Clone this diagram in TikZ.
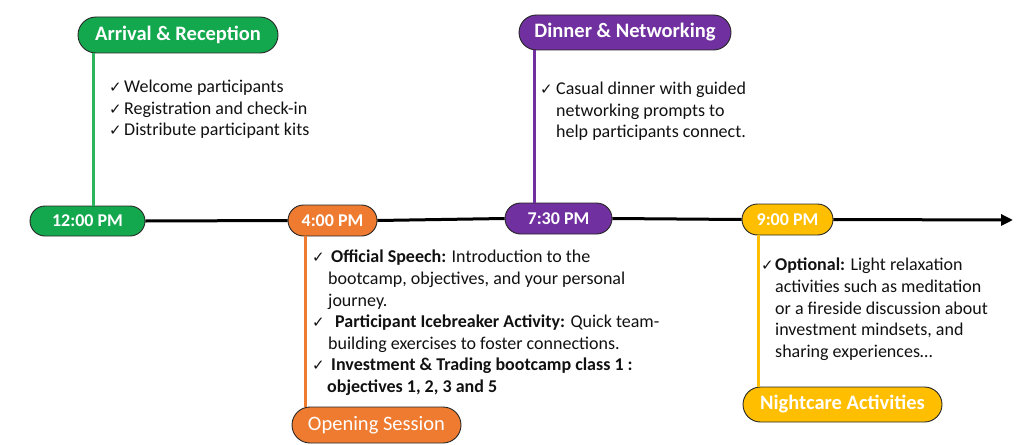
\documentclass[tikz,border=0pt]{standalone}
\usepackage{fontspec}
\setmainfont{Carlito}
\newfontfamily\symfont{DejaVu Sans}
\usetikzlibrary{arrows.meta}
\definecolor{cgreen}{HTML}{13A84E}
\definecolor{cgreenl}{HTML}{2DB55D}
\definecolor{corange}{HTML}{EE7B30}
\definecolor{cpurple}{HTML}{7030A0}
\definecolor{cyellow}{HTML}{FFBF00}
\definecolor{ctext}{HTML}{111111}
\newcommand\ck[1]{\makebox[#1][l]{\symfont\fontsize{15}{15}\selectfont ✓}}
\begin{document}
\begin{tikzpicture}[x=1pt,y=-1pt,
  pill/.style={draw=black!85, line width=0.9pt, text=white, inner sep=0pt, font=\bfseries\fontsize{18}{18}\selectfont},
  lbl/.style={pill, font=\bfseries\fontsize{20.5}{20.5}\selectfont},
  lblr/.style={pill, font=\fontsize{20.5}{20.5}\selectfont},
  desc/.style={anchor=north west, align=left, inner sep=0pt, text=ctext, font=\fontsize{18}{21.6}\selectfont},
  tline/.style={line width=3pt, black},
  vline/.style={line width=3pt}]
\useasboundingbox (0,0) rectangle (1024,444);

% time nodes
\node[pill, fill=cgreen, minimum width=115pt, minimum height=30pt, rounded corners=15pt] (t12) at (87.5,221) {12:00 PM};
\node[pill, fill=corange, minimum width=89pt, minimum height=31pt, rounded corners=15.5pt] (t4) at (332.5,220.5) {4:00 PM};
\node[pill, fill=cpurple, minimum width=107pt, minimum height=31pt, rounded corners=15.5pt] (t730) at (558.5,218.5) {7:30 PM};
\node[pill, fill=cyellow, minimum width=91pt, minimum height=31pt, rounded corners=15.5pt] (t9) at (787.5,219.5) {9:00 PM};
\coordinate (tend) at (1013,220);

% label nodes
\node[lbl, fill=cgreen, minimum width=200pt, minimum height=36pt, rounded corners=18pt] (arr) at (178,35) {Arrival \& Reception};
\node[lblr, fill=corange, minimum width=169pt, minimum height=36pt, rounded corners=18pt] (open) at (376.5,425) {Opening Session};
\node[lbl, fill=cpurple, minimum width=212pt, minimum height=35pt, rounded corners=17.5pt] (din) at (625,32.5) {Dinner \& Networking};
\node[lbl, fill=cyellow, minimum width=199pt, minimum height=35pt, rounded corners=17.5pt] (night) at (842.5,404.5) {Nightcare Activities};

% timeline
\draw[tline] (t12.east) -- (t4.west);
\draw[tline] (t4.east) -- (t730.west);
\draw[tline] (t730.east) -- (t9.west);
\draw[tline, -{Triangle[length=12pt,width=11pt]}] (t9.east) -- (tend);

% vertical connectors
\coordinate (gx) at (93,0);
\coordinate (ox) at (305,0);
\coordinate (px) at (534,0);
\coordinate (yx) at (758,0);
\draw[vline, cgreenl] (arr.south -| gx) -- (t12.north -| gx);
\draw[vline, corange] (t4.south -| ox) -- (open.north -| ox);
\draw[vline, cpurple] (din.south -| px) -- (t730.north -| px);
\draw[vline, cyellow] (t9.south -| yx) -- (night.north -| yx);

% descriptions
\node[desc] (d1) at (109,80) {\ck{15pt}Welcome participants\\
\ck{15pt}Registration and check-in\\
\ck{15pt}Distribute participant kits};

\node[desc] (d2) at (312,250) {\ck{19pt}\textbf{Official Speech:} Introduction to the\\
\hspace*{16pt}bootcamp, objectives, and your personal\\
\hspace*{16pt}journey.\\
\ck{23pt}\textbf{Participant Icebreaker Activity:} Quick team-\\
\hspace*{16pt}building exercises to foster connections.\\
\ck{19pt}\textbf{Investment \& Trading bootcamp class 1 :}\\
\hspace*{15pt}\textbf{objectives 1, 2, 3 and 5}};

\node[desc] (d3) at (540,82) {\ck{16pt}Casual dinner with guided\\
\hspace*{16pt}networking prompts to\\
\hspace*{16pt}help participants connect.};

\node[desc] (d4) at (761,258) {\ck{14pt}\textbf{Optional:} Light relaxation\\
\hspace*{14pt}activities such as meditation\\
\hspace*{14pt}or a fireside discussion about\\
\hspace*{14pt}investment mindsets, and\\
\hspace*{14pt}sharing experiences\ldots};
\end{tikzpicture}
\end{document}
